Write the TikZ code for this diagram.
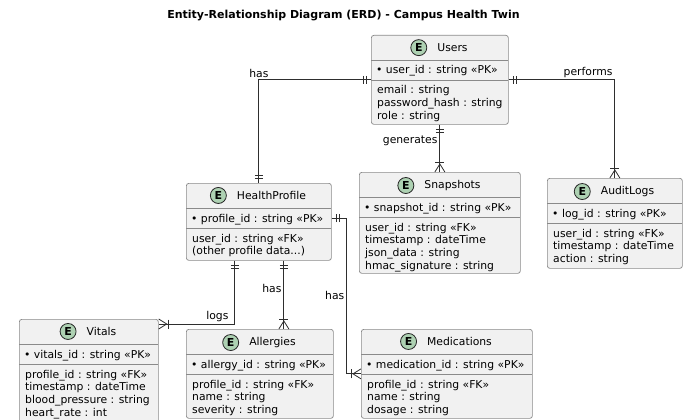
\documentclass[tikz,border=0pt]{standalone}
\usepackage{fontspec}
\setmainfont{DejaVu Sans}
\usetikzlibrary{calc,positioning,decorations.markings}

\definecolor{boxfill}{HTML}{F1F1F1}
\definecolor{boxline}{HTML}{8A8A8A}
\definecolor{efill}{HTML}{ADD1B2}
\definecolor{relline}{HTML}{2E2E2E}

\tikzset{
  entbox/.style={draw=boxline,fill=boxfill,rounded corners=2.5pt,line width=0.7pt,inner sep=0pt},
  entline/.style={draw=boxline,line width=0.7pt},
  entcirc/.style={circle,draw=black!85,fill=efill,line width=0.8pt,minimum size=16pt,inner sep=0pt,
    font=\bfseries\fontsize{11}{11}\selectfont},
  enttext/.style={anchor=base west,inner sep=0pt,font=\fontsize{10.8}{13}\selectfont},
  rel/.style={draw=relline,line width=0.8pt},
  rellabel/.style={inner sep=2pt,font=\fontsize{10.8}{13}\selectfont},
  one start/.style={postaction={decorate,decoration={markings,mark=at position 0 with {
    \draw[relline,line width=0.8pt] (5pt,-4pt) -- (5pt,4pt) (8pt,-4pt) -- (8pt,4pt);}}}},
  one end/.style={postaction={decorate,decoration={markings,mark=at position 1 with {
    \draw[relline,line width=0.8pt] (-5pt,-4pt) -- (-5pt,4pt) (-8pt,-4pt) -- (-8pt,4pt);}}}},
  many end/.style={postaction={decorate,decoration={markings,mark=at position 1 with {
    \draw[relline,line width=0.8pt] (-10pt,-4.5pt) -- (-10pt,4.5pt);
    \draw[relline,line width=0.8pt] (0pt,-5pt) -- (-8pt,0pt) -- (0pt,5pt);}}}}
}

% #1 名前, #2 x, #3 y, #4 幅, #5 高さ, #6 見出し, #7 主キー, #8 属性
\newcommand{\erentity}[8]{%
  \node[entbox,minimum width=#4pt,minimum height=#5pt,anchor=north west] (#1) at (#2,#3) {};
  \draw[entline] (#2,#3+25) -- (#2+#4,#3+25);
  \draw[entline] (#2,#3+45) -- (#2+#4,#3+45);
  \node[enttext,anchor=base] (#1-t) at (#2+#4/2+13,#3+16.5) {#6};
  \node[entcirc,left=10pt of #1-t.west] {E};
  \node[enttext] at (#2+5,#3+39) {\textbullet\ #7};
  \foreach \a [count=\i from 0] in {#8}
    \node[enttext] at (#2+6,#3+59+12.7*\i) {\a};
}

\begin{document}
\begin{tikzpicture}[x=1pt,y=-1pt]
  \useasboundingbox[fill=white] (0,0) rectangle (686,420);
  \node[font=\bfseries\fontsize{11}{13}\selectfont] (title) at (343.5,16)
    {Entity-Relationship Diagram (ERD) - Campus Health Twin};
  % エンティティ
  \erentity{Users}{371}{35}{137}{89}{Users}{user\_id : string «PK»}
    {email : string,password\_hash : string,role : string}
  \erentity{Profile}{186}{183}{145}{77}{HealthProfile}{profile\_id : string «PK»}
    {user\_id : string «FK»,{(other profile data{...})}}
  \erentity{Snap}{359}{172}{161}{101}{Snapshots}{snapshot\_id : string «PK»}
    {user\_id : string «FK»,timestamp : dateTime,json\_data : string,hmac\_signature : string}
  \erentity{Audit}{547}{178}{135}{90}{AuditLogs}{log\_id : string «PK»}
    {user\_id : string «FK»,timestamp : dateTime,action : string}
  \erentity{Vitals}{19}{319}{139}{105}{Vitals}{vitals\_id : string «PK»}
    {profile\_id : string «FK»,timestamp : dateTime,blood\_pressure : string,heart\_rate : int}
  \erentity{Allergy}{186}{329}{147}{89}{Allergies}{allergy\_id : string «PK»}
    {profile\_id : string «FK»,name : string,severity : string}
  \erentity{Med}{361}{329}{171}{89}{Medications}{medication\_id : string «PK»}
    {profile\_id : string «FK»,name : string,dosage : string}
  % 関係
  \draw[rel,one start,one end] (Users.west) -| node[rellabel,pos=0.5,above] {has} (Profile.north);
  \draw[rel,one start,many end] (Users.east) -| node[rellabel,pos=0.5,anchor=south east] {performs} (Audit.north);
  \draw[rel,one start,many end] (Users.south) -- node[rellabel,pos=0.35,anchor=east] {generates} (Snap.north);
  \coordinate (V1) at ($(Profile.south)+(-24,0)$);
  \coordinate (V2) at ($(Vitals.north east)+(0,5)$);
  \draw[rel,one start,many end] (V1) |- node[rellabel,pos=0.5,anchor=south east,xshift=-4pt] {logs} (V2);
  \coordinate (A1) at ($(Profile.south)+(25,0)$);
  \draw[rel,one start,many end] (A1) -- node[rellabel,pos=0.4,anchor=east] {has} (A1 |- Allergy.north);
  \coordinate (M1) at ($(Profile.north east)+(0,35)$);
  \draw[rel,one start,many end] (M1) -- ++(15,0) |- node[rellabel,pos=0.25,anchor=east] {has} (Med.west);
\end{tikzpicture}
\end{document}
